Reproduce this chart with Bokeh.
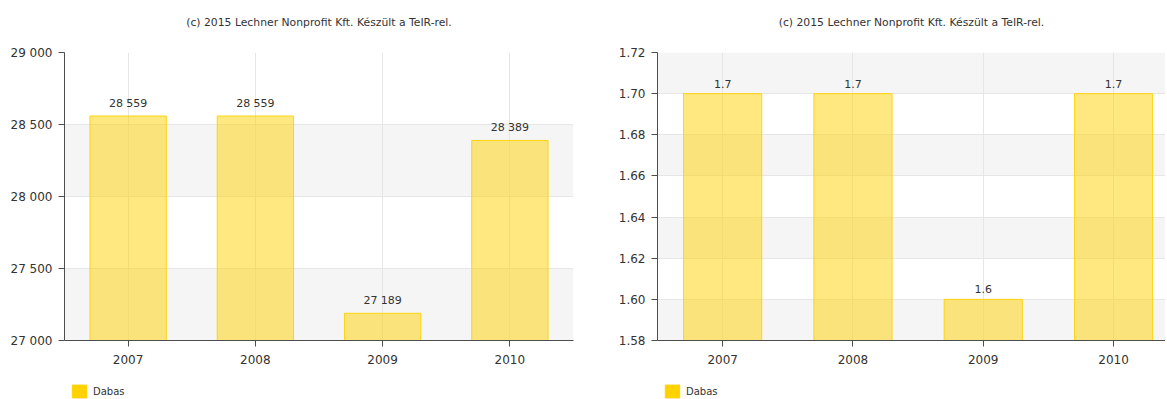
from bokeh.plotting import figure
from bokeh.models import (Range1d, FixedTicker, ColumnDataSource, Legend,
                          LegendItem, BoxAnnotation)
from bokeh.layouts import row, column
from bokeh.core.properties import value
from bokeh.embed import file_html
from bokeh.resources import INLINE

# ---------------- data ----------------
years = ["2007", "2008", "2009", "2010"]
series_name = "Dabas"
title_text = "(c) 2015 Lechner Nonprofit Kft. Készült a TeIR-rel."

left_values = [28559, 28559, 27189, 28389]
left_bar_labels = ["28 559", "28 559", "27 189", "28 389"]
left_ticks = [27000, 27500, 28000, 28500, 29000]
left_tick_labels = ["27 000", "27 500", "28 000", "28 500", "29 000"]

right_values = [1.7, 1.7, 1.6, 1.7]
right_bar_labels = ["1.7", "1.7", "1.6", "1.7"]
right_ticks = [1.58, 1.60, 1.62, 1.64, 1.66, 1.68, 1.70, 1.72]
right_tick_labels = ["1.58", "1.60", "1.62", "1.64", "1.66", "1.68", "1.70", "1.72"]

# ---------------- style ----------------
GOLD = "#FFD200"
FONT = "DejaVu Sans"
TXT = "#333333"
AXIS = "#4d4d4d"
GRID = "#e6e6e6"
BAND = "#f5f5f5"


def make_chart(values, bar_labels, ticks, tick_labels, width, b_left, b_right,
               x_span, b_top, b_bottom):
    xs = list(range(1, len(years) + 1))
    src = ColumnDataSource(dict(x=xs, top=values, label=bar_labels))
    p = figure(width=width, height=383,
               x_range=Range1d(0.5, 0.5 + x_span),
               y_range=Range1d(ticks[0], ticks[-1]),
               output_backend="svg", toolbar_location=None,
               min_border_left=b_left, min_border_right=b_right,
               min_border_top=b_top, min_border_bottom=b_bottom,
               title=title_text + "\n ")
    p.outline_line_color = None
    p.background_fill_color = "white"
    p.title.align = "center"
    p.title.text_font = FONT
    p.title.text_font_size = "10.8px"
    p.title.text_font_style = "normal"
    p.title.text_color = TXT
    p.title.standoff = 22

    for i in range(0, len(ticks) - 1, 2):
        p.add_layout(BoxAnnotation(bottom=ticks[i], top=ticks[i + 1],
                                   fill_color=BAND, fill_alpha=1,
                                   line_alpha=0, level="image"))

    p.xaxis.ticker = FixedTicker(ticks=xs)
    p.xaxis.major_label_overrides = {x: y for x, y in zip(xs, years)}
    p.yaxis.ticker = FixedTicker(ticks=ticks)
    p.yaxis.major_label_overrides = {t: l for t, l in zip(ticks, tick_labels)}
    for ax in (p.xaxis, p.yaxis):
        ax.axis_line_color = AXIS
        ax.major_tick_line_color = AXIS
        ax.major_tick_out = 6
        ax.major_tick_in = 0
        ax.minor_tick_line_color = None
        ax.major_label_text_font = FONT
        ax.major_label_text_font_size = "12px"
        ax.major_label_text_color = TXT
    p.xaxis.major_label_standoff = 8
    p.yaxis.major_label_standoff = 6

    p.xgrid.grid_line_color = GRID
    p.ygrid.grid_line_color = GRID

    p.vbar(x="x", top="top", bottom=ticks[0], width=0.6, source=src,
           fill_color=GOLD, fill_alpha=0.5, line_color=GOLD, line_alpha=0.9,
           line_width=1)
    p.text(x="x", y="top", text="label", source=src, text_align="center",
           text_baseline="bottom", y_offset=-6, text_font=value(FONT),
           text_font_size="11px", text_color=TXT)
    return p, src


def make_legend(src, width, b_left):
    lf = figure(width=width, height=16, x_range=Range1d(0, 1),
                y_range=Range1d(0, 1), output_backend="svg",
                toolbar_location=None, min_border_left=b_left,
                min_border_right=0, min_border_top=0, min_border_bottom=0)
    lf.axis.visible = False
    lf.grid.visible = False
    lf.outline_line_color = None
    proxy = lf.vbar(x="x", top="top", width=0.6, source=src,
                    fill_color=GOLD, fill_alpha=1, line_color=GOLD,
                    visible=False)
    legend = Legend(items=[LegendItem(label=series_name, renderers=[proxy],
                                      index=0)],
                    location="top_left", glyph_width=18, glyph_height=16,
                    label_text_font=FONT, label_text_font_size="10px",
                    label_text_color=TXT, border_line_alpha=0,
                    background_fill_alpha=0, padding=0, margin=0,
                    label_standoff=5, label_height=16,
                    inactive_fill_alpha=0)
    lf.add_layout(legend)
    return lf


left, left_src = make_chart(left_values, left_bar_labels, left_ticks,
                            left_tick_labels, 583, 64, 10, 4.0, 50, 43)
right, right_src = make_chart(right_values, right_bar_labels, right_ticks,
                              right_tick_labels, 582, 74, 0, 508 / 130.3, 52, 42)
leg_left = make_legend(left_src, 583, 70)
leg_right = make_legend(right_src, 582, 80)

layout = column(row(left, right), row(leg_left, leg_right))
open("out.html", "w").write(file_html(layout, INLINE))
